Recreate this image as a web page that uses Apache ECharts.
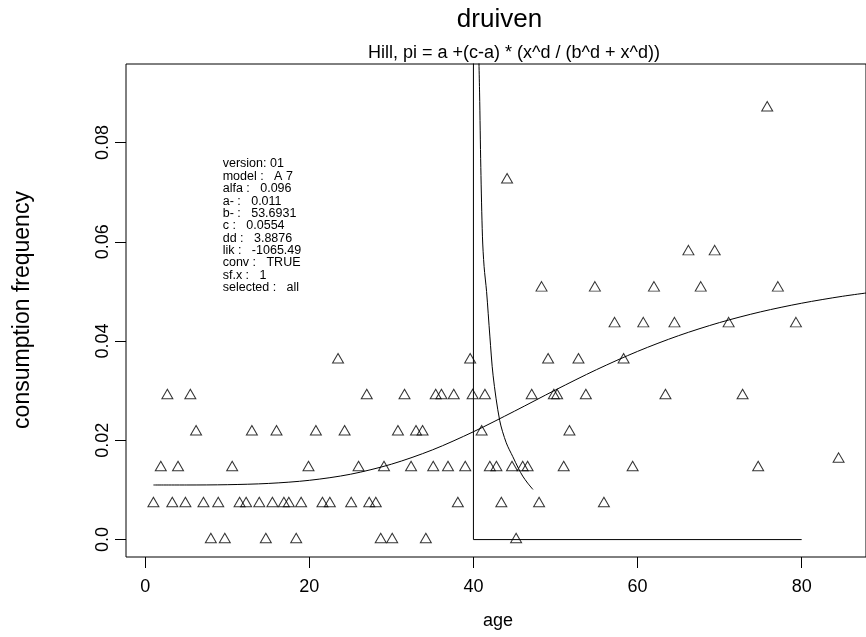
<!DOCTYPE html>
<html>
<head>
<meta charset="utf-8">
<script src="https://cdn.jsdelivr.net/npm/echarts@6/dist/echarts.min.js"></script>
<style>
  html, body { margin: 0; padding: 0; background: #fff; }
  #chart { width: 866px; height: 637px; }
</style>
</head>
<body>
<div id="chart"></div>
<script>
// Observed consumption frequency per age (one entry per respondent group)
const age = [
  8.0, 9.7, 14.7, 18.4, 28.7, 30.1, 34.2, 45.2,
  1.0, 3.3, 4.9, 7.1, 8.9, 11.5, 12.3, 13.9, 15.5, 16.9, 17.5, 19.0, 21.6, 22.5, 25.1, 27.3, 28.1, 38.1, 43.4, 48.0, 55.9,
  1.9, 4.0, 10.6, 19.9, 26.0, 29.1, 32.4, 35.1, 36.9, 39.0, 42.0, 42.8, 44.7, 46.0, 46.6, 51.0, 59.4, 74.7,
  6.2, 13.0, 16.0, 20.8, 24.3, 30.8, 33.0, 33.8, 41.0, 51.7,
  2.7, 5.5, 27.0, 31.6, 35.4, 36.1, 37.6, 39.9, 41.4, 47.1, 49.8, 50.2, 53.7, 63.4, 72.8,
  23.5, 39.6, 49.1, 52.8, 58.3,
  57.2, 60.7, 64.5, 71.1, 79.3,
  48.3, 54.8, 62.0, 67.7, 77.1,
  66.2, 69.4,
  44.1,
  75.8,
  84.5
];
const freq = [
  0, 0, 0, 0, 0, 0, 0, 0,
  0.00725, 0.00725, 0.00725, 0.00725, 0.00725, 0.00725, 0.00725, 0.00725, 0.00725, 0.00725, 0.00725, 0.00725, 0.00725, 0.00725, 0.00725, 0.00725, 0.00725, 0.00725, 0.00725, 0.00725, 0.00725,
  0.0145, 0.0145, 0.0145, 0.0145, 0.0145, 0.0145, 0.0145, 0.0145, 0.0145, 0.0145, 0.0145, 0.0145, 0.0145, 0.0145, 0.0145, 0.0145, 0.0145, 0.0145,
  0.0217, 0.0217, 0.0217, 0.0217, 0.0217, 0.0217, 0.0217, 0.0217, 0.0217, 0.0217,
  0.029, 0.029, 0.029, 0.029, 0.029, 0.029, 0.029, 0.029, 0.029, 0.029, 0.029, 0.029, 0.029, 0.029, 0.029,
  0.0362, 0.0362, 0.0362, 0.0362, 0.0362,
  0.0435, 0.0435, 0.0435, 0.0435, 0.0435,
  0.0507, 0.0507, 0.0507, 0.0507, 0.0507,
  0.058, 0.058,
  0.0725,
  0.087,
  0.0162
];

// Fitted Hill curve
const hillAge  = [1, 5, 10, 15, 20, 25, 30, 35, 40, 45, 50, 55, 60, 65, 70, 75, 80, 85, 90];
const hillFreq = [0.0110, 0.0110, 0.01106, 0.01131, 0.01194, 0.01316, 0.01519, 0.01807, 0.02173, 0.02587,
                  0.03015, 0.03424, 0.03792, 0.04109, 0.04373, 0.04589, 0.04763, 0.04903, 0.05015];

// Steep decreasing curve just right of age 40
const dropAge  = [40.62, 40.75, 40.9, 41.1, 41.3, 41.6, 42.0, 42.4, 43.2, 44.0, 44.8, 45.5, 46.0, 46.6, 47.25];
const dropFreq = [0.100, 0.090, 0.075, 0.061, 0.055, 0.050, 0.041, 0.033, 0.024, 0.0195, 0.0167, 0.0143, 0.0128, 0.0114, 0.0101];

// Step line: vertical at age 40, then flat at zero up to age 80
const stepAge  = [40, 40, 80];
const stepFreq = [0.1, 0, 0];

const xTicks = [0, 20, 40, 60, 80];
const yTicks = [0, 0.02, 0.04, 0.06, 0.08];

const infoLines = [
  'version: 01',
  'model :   A 7',
  'alfa :   0.096',
  'a- :   0.011',
  'b- :   53.6931',
  'c :   0.0554',
  'dd :   3.8876',
  'lik :   -1065.49',
  'conv :   TRUE',
  'sf.x :   1',
  'selected :   all'
];

const FONT = '"Liberation Sans", Arial, Helvetica, sans-serif';
const pairs = (xs, ys) => xs.map((x, i) => [x, ys[i]]);

const chart = echarts.init(document.getElementById('chart'), null, { renderer: 'canvas' });

const textEl = (x, y, text, size, extra) => ({
  type: 'text',
  x: x, y: y,
  silent: true,
  style: Object.assign({
    text: text,
    fontSize: size,
    fontFamily: FONT,
    fill: '#000',
    align: 'center',
    verticalAlign: 'middle',
    textAlign: 'center',
    textVerticalAlign: 'middle'
  }, extra || {})
});

const graphics = [
  textEl(499.5, 20, 'druiven', 26),
  textEl(514, 53, 'Hill, pi = a +(c-a) * (x^d / (b^d + x^d))', 18),
  textEl(498, 621, 'age', 18),
  Object.assign(textEl(23, 310, 'consumption frequency', 23), { rotation: Math.PI / 2 })
];
infoLines.forEach((line, i) => {
  graphics.push(textEl(222.7, 164 + i * 12.35, line, 12.5, { align: 'left', textAlign: 'left' }));
});

chart.setOption({
  animation: false,
  backgroundColor: '#fff',
  grid: {
    left: 126, top: 64, width: 747, height: 493,
    show: true, borderColor: '#000', borderWidth: 1, backgroundColor: 'transparent'
  },
  xAxis: {
    type: 'value',
    min: -2.34, max: 87.84,
    axisLine: { show: false, onZero: false },
    splitLine: { show: false },
    axisTick: { show: true, length: 11, inside: false, customValues: xTicks, lineStyle: { color: '#000', width: 1 } },
    axisLabel: { customValues: xTicks, margin: 21, fontSize: 18, fontFamily: FONT, color: '#000' }
  },
  yAxis: {
    type: 'value',
    min: -0.00351, max: 0.09583,
    axisLine: { show: false, onZero: false },
    splitLine: { show: false },
    axisTick: { show: true, length: 11, inside: false, customValues: yTicks, lineStyle: { color: '#000', width: 1 } },
    axisLabel: {
      customValues: yTicks, rotate: 90, margin: 14, fontSize: 18, fontFamily: FONT, color: '#000',
      formatter: v => (v === 0 ? '0.0' : v.toFixed(2))
    }
  },
  graphic: graphics,
  series: [
    {
      type: 'scatter',
      data: pairs(age, freq),
      symbol: 'triangle',
      symbolSize: [11, 9.5],
      symbolOffset: [0, -1.6],
      itemStyle: { color: 'rgba(0,0,0,0)', borderColor: '#000', borderWidth: 1 },
      silent: true
    },
    {
      type: 'line',
      data: pairs(hillAge, hillFreq),
      smooth: 0.3,
      showSymbol: false,
      lineStyle: { color: '#000', width: 1 },
      silent: true
    },
    {
      type: 'line',
      data: pairs(dropAge, dropFreq),
      smooth: 0.3,
      showSymbol: false,
      lineStyle: { color: '#000', width: 1 },
      silent: true
    },
    {
      type: 'line',
      data: pairs(stepAge, stepFreq),
      showSymbol: false,
      lineStyle: { color: '#000', width: 1 },
      silent: true
    }
  ]
});
</script>
</body>
</html>
